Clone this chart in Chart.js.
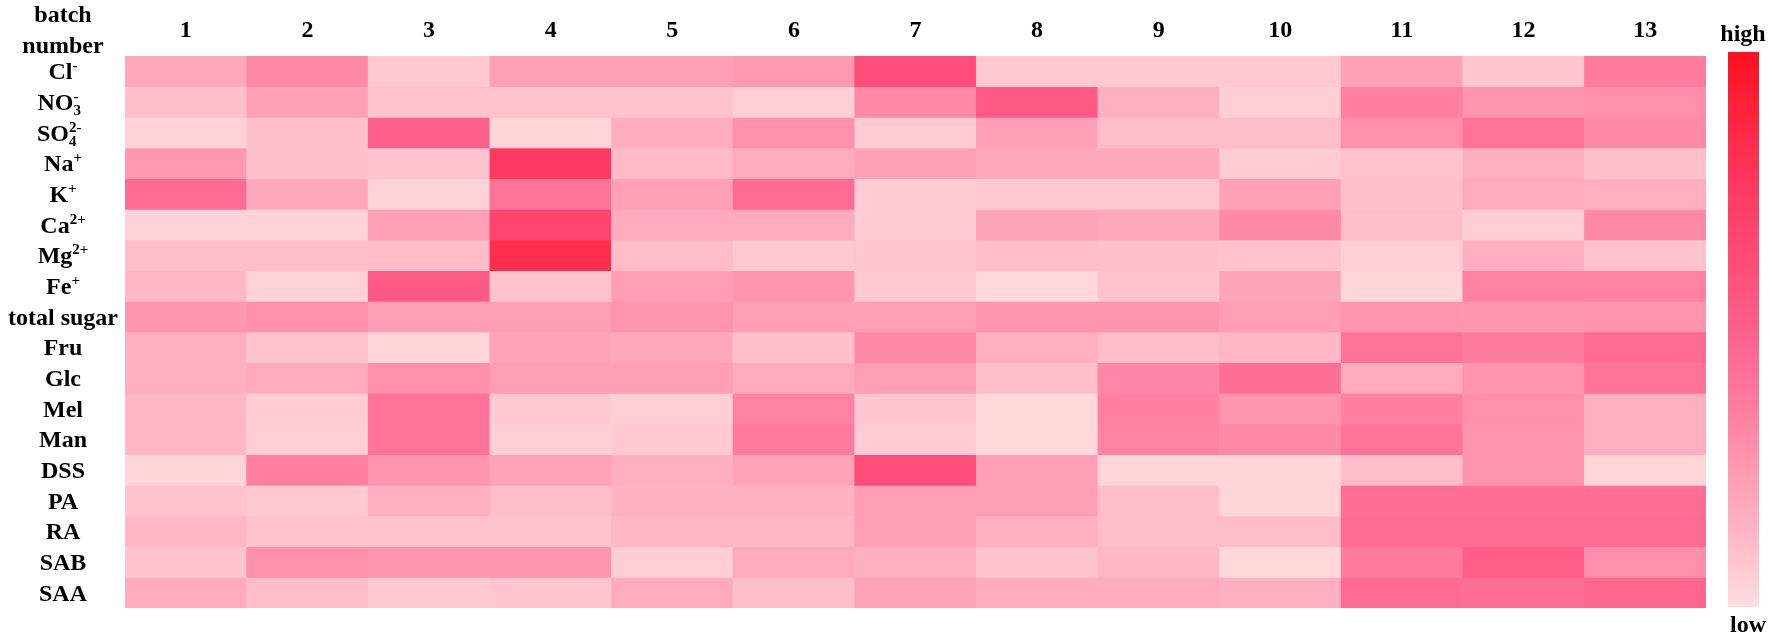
<!DOCTYPE html>
<html>
<head>
<meta charset="utf-8">
<script src="https://cdn.jsdelivr.net/npm/chart.js@4/dist/chart.umd.min.js"></script>
<style>
  html, body { margin: 0; padding: 0; background: #fff; }
</style>
</head>
<body>
<canvas id="mapa" width="1772" height="638"></canvas>
<script>
const batches = ['1', '2', '3', '4', '5', '6', '7', '8', '9', '10', '11', '12', '13'];
const rowLabels = ['Cl^-', 'NO_3^-', 'SO_4^{2-}', 'Na^+', 'K^+', 'Ca^{2+}', 'Mg^{2+}', 'Fe^+',
  'total sugar', 'Fru', 'Glc', 'Mel', 'Man', 'DSS', 'PA', 'RA', 'SAB', 'SAA'];

// relative level of each batch, 0 = low, 100 = high
const cl = [19, 31, 7, 22, 22, 25, 61, 7, 7, 7, 22, 8, 37];
const no3 = [10, 22, 9, 9, 9, 5, 31, 53, 16, 5, 35, 27, 29];
const so4 = [4, 10, 50, 3, 17, 29, 6, 22, 11, 11, 29, 41, 31];
const na = [25, 10, 9, 75, 12, 18, 22, 19, 19, 6, 9, 16, 10];
const k = [45, 19, 4, 41, 22, 45, 6, 7, 7, 22, 10, 18, 16];
const ca = [4, 4, 22, 68, 18, 18, 6, 20, 19, 31, 11, 5, 31];
const mg = [11, 11, 11, 83, 11, 7, 8, 11, 10, 9, 5, 16, 9];
const fe = [13, 4, 53, 9, 23, 26, 7, 2, 9, 20, 3, 34, 34];
const totalSugar = [26, 29, 23, 23, 27, 23, 23, 27, 27, 23, 27, 26, 27];
const fru = [16, 9, 3, 21, 19, 10, 31, 16, 11, 13, 41, 37, 45];
const glc = [16, 18, 29, 23, 23, 18, 23, 10, 32, 43, 18, 27, 41];
const mel = [13, 6, 41, 7, 5, 34, 8, 2, 35, 27, 35, 29, 16];
const man = [13, 5, 41, 5, 7, 37, 6, 2, 34, 31, 41, 27, 16];
const dss = [3, 35, 27, 21, 16, 21, 61, 22, 3, 3, 11, 27, 3];
const pa = [9, 7, 16, 11, 15, 15, 23, 23, 11, 3, 43, 43, 43];
const ra = [13, 9, 9, 9, 13, 13, 23, 16, 11, 11, 45, 45, 45];
const sab = [9, 29, 27, 27, 5, 18, 16, 9, 13, 2, 37, 51, 29];
const saa = [18, 11, 7, 8, 18, 10, 21, 18, 18, 16, 45, 43, 47];

const rows = [cl, no3, so4, na, k, ca, mg, fe, totalSugar, fru, glc, mel, man, dss, pa, ra, sab, saa];

// colour scale low -> high
const paleta = [
  [0, [255, 222, 222]],
  [14, [255, 180, 196]],
  [34, [255, 130, 162]],
  [53, [255, 90, 134]],
  [75, [255, 58, 98]],
  [100, [255, 16, 32]]
];

function cor(v) {
  for (let i = 1; i < paleta.length; i++) {
    const [v1, c1] = paleta[i];
    const [v0, c0] = paleta[i - 1];
    if (v <= v1) {
      const t = (v - v0) / (v1 - v0);
      const c = c0.map((x, j) => Math.round(x + (c1[j] - x) * t));
      return `rgb(${c[0]},${c[1]},${c[2]})`;
    }
  }
  const c = paleta[paleta.length - 1][1];
  return `rgb(${c[0]},${c[1]},${c[2]})`;
}

const FONTE = 'bold 24px "Liberation Serif"';
const FONTE_PEQ = 'bold 15px "Liberation Serif"';

// split 'SO_4^{2-}' into pieces
function partes(txt) {
  const out = [];
  let i = 0;
  while (i < txt.length) {
    const ch = txt[i];
    if (ch === '^' || ch === '_') {
      let s;
      if (txt[i + 1] === '{') {
        const fim = txt.indexOf('}', i);
        s = txt.slice(i + 2, fim);
        i = fim + 1;
      } else {
        s = txt[i + 1];
        i += 2;
      }
      out.push({ t: s, tipo: ch === '^' ? 'sup' : 'sub' });
    } else {
      let j = i;
      while (j < txt.length && txt[j] !== '^' && txt[j] !== '_') j++;
      out.push({ t: txt.slice(i, j), tipo: 'n' });
      i = j;
    }
  }
  return out;
}

function desenharRotulo(ctx, txt, cx, cy) {
  const ps = partes(txt);
  let total = 0;
  ps.forEach(p => {
    ctx.font = p.tipo === 'n' ? FONTE : FONTE_PEQ;
    p.w = ctx.measureText(p.t).width;
  });
  // sub and sup following each other share the same x
  for (let i = 0; i < ps.length; i++) {
    if (ps[i].tipo === 'sub' && ps[i + 1] && ps[i + 1].tipo === 'sup') {
      ps[i].junto = true;
      total += Math.max(ps[i].w, ps[i + 1].w) - ps[i + 1].w;
    }
    total += ps[i].w;
  }
  let x = cx - total / 2;
  const base = cy + 8;
  ctx.textAlign = 'left';
  ctx.textBaseline = 'alphabetic';
  for (let i = 0; i < ps.length; i++) {
    const p = ps[i];
    ctx.font = p.tipo === 'n' ? FONTE : FONTE_PEQ;
    const y = p.tipo === 'sup' ? base - 9 : p.tipo === 'sub' ? base + 5 : base;
    ctx.fillText(p.t, x, y);
    if (!p.junto) x += p.w;
  }
}

const extras = {
  id: 'extras',
  afterDraw(chart) {
    const ctx = chart.ctx;
    const y = chart.scales.y;
    ctx.save();
    ctx.fillStyle = '#000';
    rowLabels.forEach((txt, i) => desenharRotulo(ctx, txt, 63, y.getPixelForValue(i + 0.5)));

    ctx.font = FONTE;
    ctx.textAlign = 'center';
    ctx.textBaseline = 'alphabetic';
    ctx.fillText('batch', 63, 22);
    ctx.fillText('number', 63, 53);

    // colour bar
    const topo = 52, fundo = 607, x0 = 1728, larg = 31;
    const grad = ctx.createLinearGradient(0, fundo, 0, topo);
    paleta.forEach(([v]) => grad.addColorStop(v / 100, cor(v)));
    ctx.fillStyle = grad;
    ctx.fillRect(x0, topo, larg, fundo - topo);

    ctx.fillStyle = '#000';
    ctx.font = FONTE;
    ctx.fillText('high', 1743, 41);
    ctx.fillText('low', 1748, 632);
    ctx.restore();
  }
};

new Chart(document.getElementById('mapa'), {
  type: 'bar',
  data: {
    labels: batches,
    datasets: rows.map((r, i) => ({
      label: rowLabels[i],
      data: batches.map(() => 1),
      backgroundColor: r.map(cor),
      borderWidth: 0,
      barPercentage: 1,
      categoryPercentage: 1
    }))
  },
  options: {
    responsive: false,
    animation: false,
    layout: { padding: { left: 125, right: 66, top: 0, bottom: 30 } },
    plugins: { legend: { display: false }, tooltip: { enabled: false } },
    scales: {
      x: {
        position: 'top',
        stacked: true,
        grid: { display: false, drawTicks: false },
        border: { display: false },
        ticks: { color: '#000', font: { family: 'Liberation Serif', size: 24, weight: 'bold' }, padding: 11 },
        afterFit(scale) { scale.height = 56; }
      },
      y: {
        stacked: true,
        reverse: true,
        min: 0,
        max: rows.length,
        display: false
      }
    }
  },
  plugins: [extras]
});
</script>
</body>
</html>
